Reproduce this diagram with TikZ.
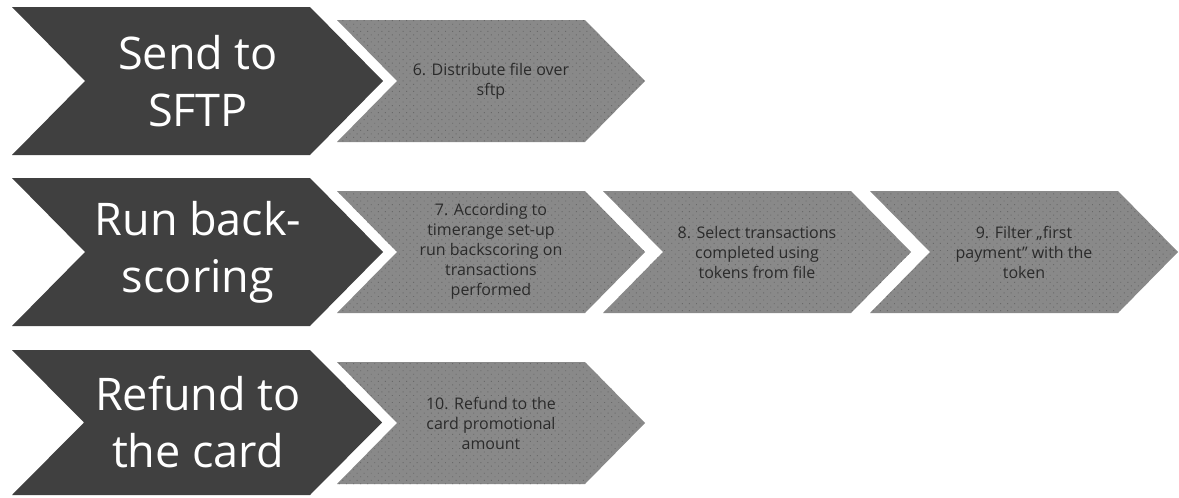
\documentclass[tikz,border=0pt]{standalone}
\usepackage{fontspec}
\setmainfont{Open Sans}
\usetikzlibrary{patterns.meta}

\definecolor{stagedark}{HTML}{404040}
\definecolor{taskgray}{HTML}{898989}
\definecolor{dotgray}{HTML}{696969}
\definecolor{textdark}{HTML}{2A2A2A}

% chevron: left x, top y, body width, height, point depth, style
\newcommand\chevpath[6]{%
  \path[#6] (#1,#2) -- ++(#3,0) -- ++(#5,#4/2) -- ++(-#5,#4/2)
    -- ++(-#3,0) -- ++(#5,-#4/2) -- cycle;}

\begin{document}
\begin{tikzpicture}[x=1pt,y=-1pt,
  stage/.style={fill=stagedark},
  task/.style={fill=taskgray,
    postaction={pattern={Dots[distance=5pt,angle=45,radius=0.65pt]},
                pattern color=dotgray}},
  stagetext/.style={text=white, font=\fontsize{45}{57}\selectfont,
    align=center, inner sep=0pt},
  tasktext/.style={text=textdark, font=\fontsize{16}{20}\selectfont,
    align=center, inner sep=0pt}]

\useasboundingbox[fill=white] (0,0) rectangle (1179,498);

% stage chevrons
\chevpath{12}{7}{298}{148}{73}{stage}
\chevpath{12}{178}{298}{148}{73}{stage}
\chevpath{12}{350}{298}{145}{72}{stage}

% task chevrons
\chevpath{337}{20}{248}{122}{60}{task}
\chevpath{337}{191}{248}{122}{60}{task}
\chevpath{603}{191}{248}{122}{60}{task}
\chevpath{870}{191}{248}{122}{60}{task}
\chevpath{337}{362}{248}{122}{60}{task}

% stage labels
\node[stagetext] (send)   at (198,81)  {Send to\\SFTP};
\node[stagetext] (run)    at (198,252) {Run back-\\scoring};
\node[stagetext] (refund) at (198,422) {Refund to\\the card};

% task labels
\node[tasktext] (t6)  at (491,81)  {6. Distribute file over\\sftp};
\node[tasktext] (t7)  at (491,251) {7. According to\\timerange set-up\\run backscoring on\\transactions\\performed};
\node[tasktext] (t8)  at (757,252) {8. Select transactions\\completed using\\tokens from file};
\node[tasktext] (t9)  at (1024,252) {9. Filter „first\\payment” with the\\token};
\node[tasktext] (t10) at (491,423) {10. Refund to the\\card promotional\\amount};
\end{tikzpicture}
\end{document}
